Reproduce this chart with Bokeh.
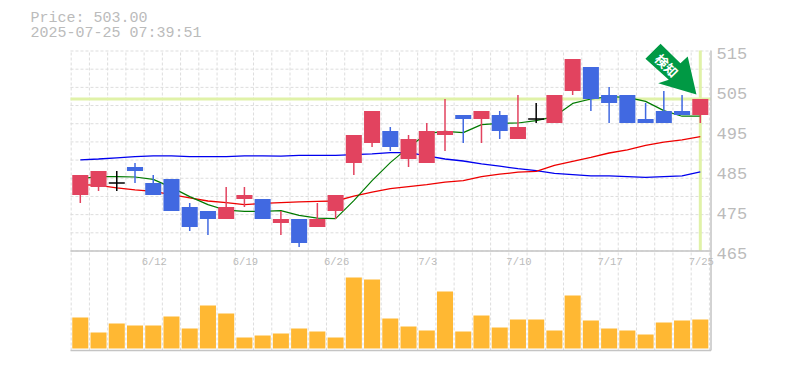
from bokeh.plotting import figure
from bokeh.embed import file_html
from bokeh.resources import INLINE
from bokeh.models import Label, Range1d, PolyAnnotation

title_lines = ["Price: 503.00", "2025-07-25 07:39:51"]
opens  = [479,481,482,486,482,483,476,475,473,478,478,472,473,471,475,487,492,495,488,487,494,499,498,499,493,498,497,505,511,504,504,498,500,500,499]
highs  = [484,485,485,487,484,483,477,475,481,481,478,475,473,477,479,494,500,496,494,497,503,499,500,500,504,502,504,513,511,506,504,502,505,504,503]
lows   = [477,480,480,482,479,475,470,469,473,476,473,469,466,471,473,484,491,490,486,487,490,492,492,493,493,497,497,504,500,497,497,497,497,499,497]
closes = [484,485,482,485,479,475,471,473,476,479,473,473,467,473,479,494,500,491,493,495,495,498,500,495,496,498,504,513,503,502,497,497,497,499,503]
ma_short = [483.1,483.6,483.6,483.5,482.9,480.9,478.6,476.6,475.2,474.9,474.9,475.1,473.9,473.2,473.1,477.6,482.6,487.1,490.9,494.4,494.9,494.6,496.6,496.9,497.0,497.6,498.6,501.9,503.0,503.6,503.4,502.4,500.1,498.7,498.7]
ma_mid = [481.6,481.4,480.8,480.3,479.9,479.1,478.3,477.5,477.1,476.6,476.9,477.1,477.3,477.4,477.5,478.7,479.7,480.6,481.1,481.6,482.2,482.6,483.6,484.2,484.7,484.9,486.4,487.4,488.4,489.5,490.3,491.4,492.2,492.8,493.6]
ma_long = [487.8,488.0,488.3,488.6,488.8,488.8,488.6,488.6,488.6,488.8,488.8,488.7,488.9,488.9,488.9,489.1,489.3,489.6,489.6,488.8,488.0,487.5,486.8,486.2,485.6,485.1,484.4,484.1,483.8,483.8,483.6,483.4,483.6,483.8,484.8]
volumes = [31,16,25,23,23,32,20,43,35,11,13,15,20,17,11,71,69,30,22,18,57,17,33,21,29,29,18,53,28,20,18,14,26,28,29]
price_ticks = [515,505,495,485,475,465]
date_pos = [4,9,14,19,24,29,34]
date_labels = ["6/12","6/19","6/26","7/3","7/10","7/17","7/25"]
last_price = 503.0
arrow_xs = [31.82,32.91,33.31,33.79,31.69,32.27,30.99]
arrow_ys = [516.8,511.95,513.6,504.1,506.95,507.8,513.05]

GREY = "#bbbbbb"
RULE = "#c4c4c4"
MONO = "Liberation Mono"
UP, DOWN, FLAT = "#e2435f", "#4169e1", "#000000"
X0, X1 = -4.376, 38.398
Y0, Y1 = 436.375, 527.625
LEFT, RIGHT = -0.538, 34.587
BOTTOM, TOP = 440.125, 515.125

p = figure(width=780, height=365, output_backend="svg", toolbar_location=None,
           x_range=Range1d(X0, X1), y_range=Range1d(Y0, Y1),
           x_axis_location=None, y_axis_location=None,
           min_border_left=0, min_border_right=0, min_border_top=0, min_border_bottom=0,
           background_fill_color="white", border_fill_color="white", outline_line_color=None)
p.extra_y_ranges["volume"] = Range1d(-17, 348)
p.grid.visible = False

# dashed grid: vertical lines at the bar edges, horizontal lines over the price panel only
v_ticks = [i - 0.5 for i in range(36)]
h_ticks = [465 + i * 50 / 11 for i in range(12)]
p.segment(v_ticks, [BOTTOM] * 36, v_ticks, [TOP] * 36, line_color="#dddddd", line_dash="3 2", line_width=1)
p.segment([LEFT] * 12, h_ticks, [RIGHT] * 12, h_ticks, line_color="#dddddd", line_dash="3 2", line_width=1)

xs = list(range(len(opens)))
n = len(xs) - 1

# latest-price cross hair
p.line([LEFT, RIGHT], [last_price, last_price], line_color="#e0f2a8", line_width=3)
p.line([n, n], [465, TOP], line_color="#e0f2a8", line_width=3)

# frame rules
p.line([LEFT, RIGHT], [465, 465], line_color=RULE, line_width=1.5)
p.line([LEFT, RIGHT], [-2, -2], y_range_name="volume", line_color=RULE, line_width=1.5)
p.line([RIGHT, RIGHT], [BOTTOM, TOP], line_color=RULE, line_width=1.5)

# volume
p.vbar(x=xs, top=volumes, bottom=0, width=0.88, y_range_name="volume", fill_color="#ffb833", line_color=None)

# moving averages
p.line(xs, ma_long, line_color="#0000ee", line_width=1.3)
p.line(xs, ma_mid, line_color="#ee0000", line_width=1.3)
p.line(xs, ma_short, line_color="#007a00", line_width=1.2)

# candles
colors = [UP if c > o else DOWN if c < o else FLAT for o, c in zip(opens, closes)]
p.segment(xs, lows, xs, highs, line_color=colors, line_width=1.5)
body = [i for i in xs if opens[i] != closes[i]]
p.vbar(x=body, bottom=[min(opens[i], closes[i]) for i in body], top=[max(opens[i], closes[i]) for i in body],
       width=0.88, fill_color=[colors[i] for i in body], line_color=None)
doji = [i for i in xs if opens[i] == closes[i]]
p.segment([i - 0.44 for i in doji], [closes[i] for i in doji], [i + 0.44 for i in doji], [closes[i] for i in doji],
          line_color=FLAT, line_width=1.5)

# signal arrow
p.add_layout(PolyAnnotation(xs=arrow_xs, ys=arrow_ys, fill_color="#009944", fill_alpha=1, line_color=None))
p.add_layout(Label(x=32.17, y=511.4, text="検知", text_color="white", text_font="Noto Sans CJK JP",
                   text_font_style="bold", text_font_size="13px", angle=-45, angle_units="deg",
                   text_align="center", text_baseline="middle"))

# price labels
for t in price_ticks:
    p.add_layout(Label(x=RIGHT, y=t, text=str(t), x_offset=5.5, y_offset=-2, text_color=GREY, text_font=MONO,
                       text_font_size="17px", text_align="left", text_baseline="middle"))
# date labels
for pos, lab in zip(date_pos, date_labels):
    p.add_layout(Label(x=pos, y=465, text=lab, x_offset=1, y_offset=-11, text_color=GREY, text_font=MONO,
                       text_font_size="10.5px", text_align="center", text_baseline="middle"))
# header
for i, line in enumerate(title_lines):
    p.add_layout(Label(x=-2.73, y=523.1 - i * 3.75, text=line, text_color=GREY, text_font=MONO,
                       text_font_size="15px", text_align="left", text_baseline="middle"))

open("out.html", "w").write(file_html(p, INLINE))
